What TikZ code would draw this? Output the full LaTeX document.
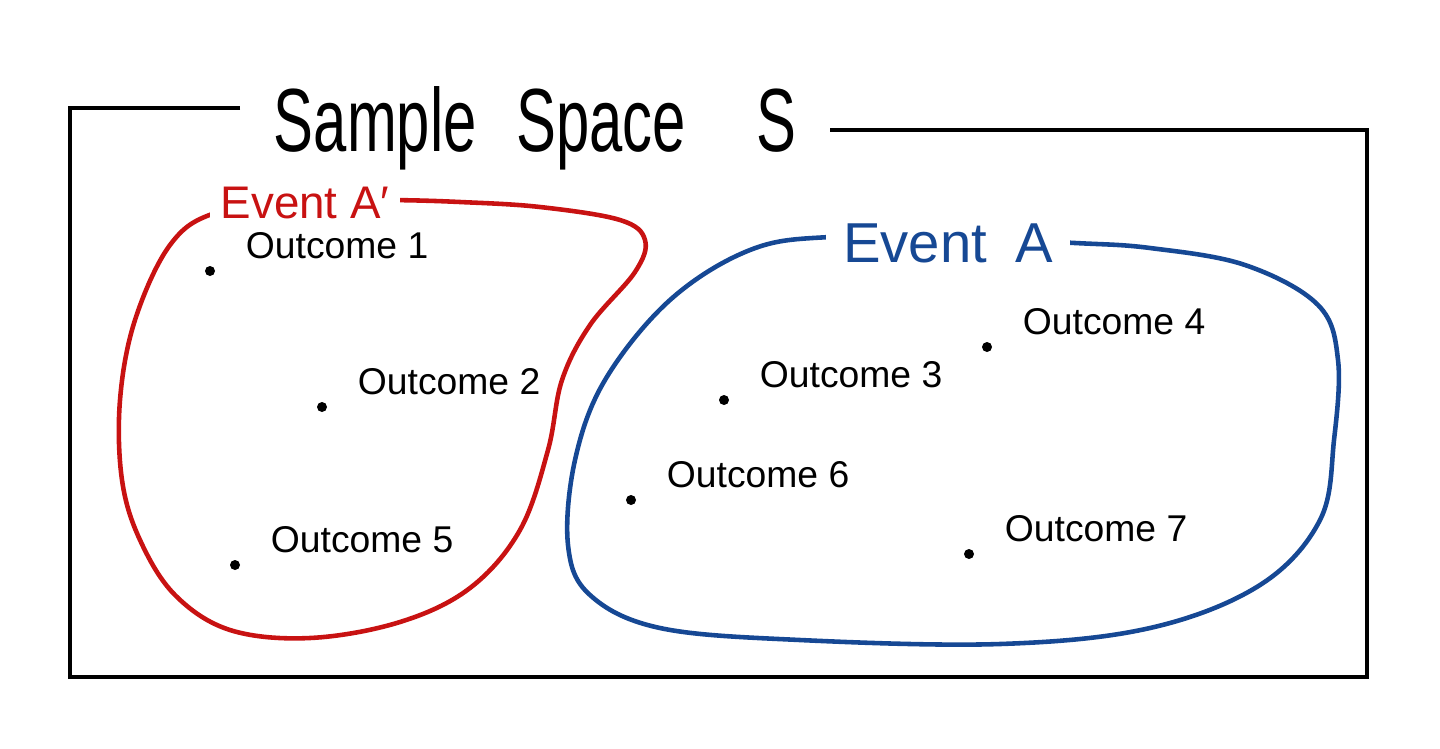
\documentclass[tikz,border=0pt]{standalone}
\usepackage{fontspec}
\usepackage{graphicx}
\setmainfont{Liberation Sans}
\usetikzlibrary{positioning}
\definecolor{eventred}{RGB}{200,18,18}
\definecolor{eventblue}{RGB}{22,72,148}
\begin{document}
\begin{tikzpicture}[x=0.01cm, y=-0.01cm,
    every node/.style={font=\fontsize{10.6}{13}\selectfont},
    dot/.style={circle, fill=black, inner sep=0pt, minimum size=0.1cm},
    outcome/.style={right=0.26cm of #1, yshift=0.25cm, inner sep=1pt}]
  \useasboundingbox (0,0) rectangle (1440,748);
  % Sample space box, top edge broken by the title
  \draw[line width=1.4pt] (240,108) -- (70,108) -- (70,677) -- (1367,677) -- (1367,130) -- (830,130);
  \node[font=\fontsize{17}{20}\selectfont] (title) at (535,128)
    {\scalebox{1}[1.5]{Sample\hspace{0.4cm}Space\hspace{0.7cm}S}};
  % Events
  \draw[eventred, line width=1.3pt] plot[smooth cycle, tension=0.6] coordinates {
    (215,213) (170,245) (135,320) (120,400) (122,480) (140,540) (175,595) (230,630) (310,638)
    (400,622) (470,588) (520,530) (548,450) (562,380) (590,325) (635,272) (645,240) (620,220)
    (540,207) (460,202) (390,200) (300,200)};
  \draw[eventblue, line width=1.3pt] plot[smooth cycle, tension=0.6] coordinates {
    (830,237) (750,250) (670,300) (605,380) (575,460) (568,545) (590,595) (660,628) (800,640)
    (1000,644) (1150,628) (1260,585) (1320,520) (1334,440) (1338,360) (1318,305) (1245,265)
    (1150,248) (1075,243) (960,238)};
  \node[eventred, fill=white, inner sep=3pt, font=\fontsize{13}{15}\selectfont] (eventAc) at (305,203) {Event A′};
  \node[eventblue, fill=white, inner sep=5pt, font=\fontsize{16}{19}\selectfont] (eventA) at (948,243) {Event\hspace{0.5em}A};
  % Outcomes
  \foreach \i/\x/\y in {1/210/271, 2/322/407, 5/235/565, 3/724/400, 4/987/347, 6/631/500, 7/969/554} {
    \node[dot] (d\i) at (\x,\y) {};
    \node[outcome=d\i] (o\i) {Outcome \i};
  }
\end{tikzpicture}
\end{document}
